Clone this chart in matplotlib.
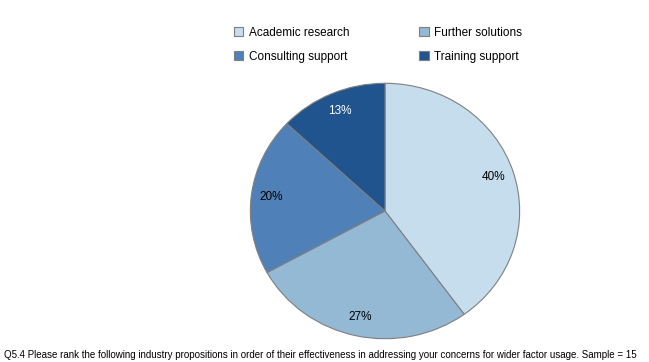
import matplotlib
matplotlib.use("Agg")
import matplotlib.pyplot as plt
from matplotlib.patches import Patch

labels = ["Academic research", "Further solutions", "Consulting support", "Training support"]
shares = [40, 27, 20, 13]
colors = ["#c6ddee", "#94b9d4", "#4f81b8", "#1f548f"]
pct_colors = ["black", "black", "black", "white"]
caption = ("Q5.4 Please rank the following industry propositions in order of their effectiveness "
           "in addressing your concerns for wider factor usage. Sample = 15")


def main():
    plt.rcParams["font.family"] = ["Liberation Sans", "DejaVu Sans"]
    fig = plt.figure(figsize=(6.49, 3.62), dpi=100)
    ax = fig.add_axes([249 / 649, 22 / 362, 272 / 649, 258 / 362])

    wedges, texts, autotexts = ax.pie(
        shares, colors=colors, startangle=90, counterclock=False,
        autopct="%d%%", pctdistance=0.85,
        wedgeprops=dict(edgecolor="#7f7f7f", linewidth=0.8),
        textprops=dict(fontsize=8.5))
    for t, c in zip(autotexts, pct_colors):
        t.set_color(c)
    ax.set_aspect("auto")
    ax.set_xlim(-1.01, 1.01)
    ax.set_ylim(-1.01, 1.01)

    # legend is filled row by row in the original
    order = [0, 2, 1, 3]
    handles = [Patch(facecolor=colors[i], edgecolor="#7f7f7f", linewidth=0.8) for i in order]
    fig.legend(handles, [labels[i] for i in order], ncol=2, loc="upper left",
               bbox_to_anchor=(223 / 649, 1 - 16 / 362), frameon=False,
               fontsize=8.5, handlelength=0.8, handleheight=0.8,
               handletextpad=0.5, columnspacing=5.9, labelspacing=1.05)

    fig.text(4 / 649, 1 - 355 / 362, caption, fontsize=7.0, va="center", ha="left")

    fig.savefig("out.png", dpi=100)


if __name__ == "__main__":
    main()
